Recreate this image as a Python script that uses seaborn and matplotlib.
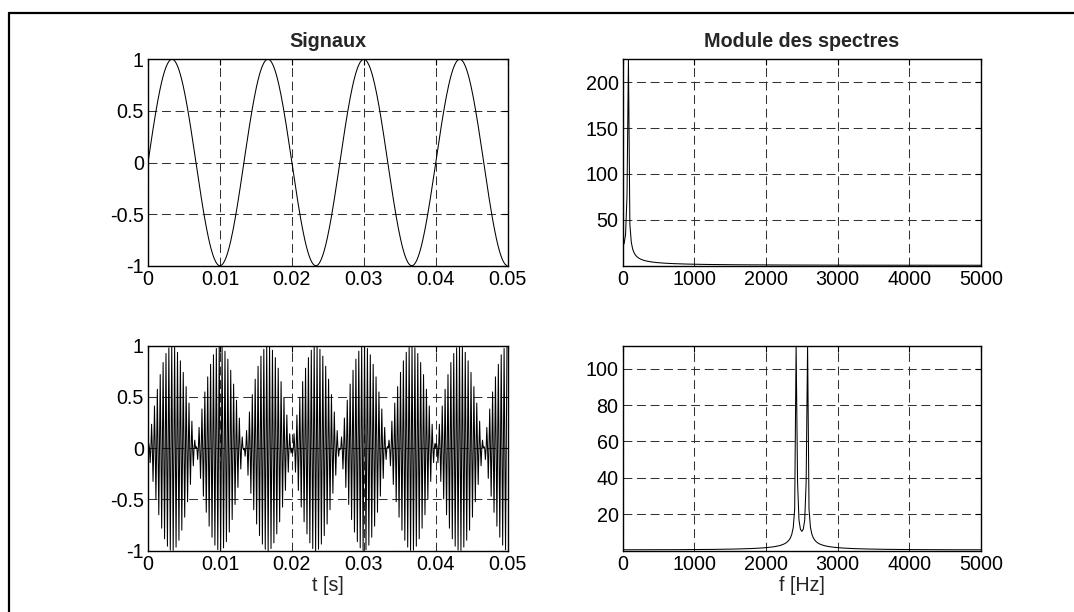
import numpy as np
import pandas as pd
import matplotlib
matplotlib.use("Agg")
import matplotlib.pyplot as plt
import seaborn as sns
from matplotlib.lines import Line2D

# signal parameters
fs = 10000          # sampling rate [Hz] (spectrum axis stops at fs/2)
n_samples = 500     # 0.05 s of signal
f_signal = 75       # Hz, 3.75 periods in 0.05 s
f_carrier = 2500    # Hz, centre of the two spectral lines (2425 / 2575)

t_ticks = [0, 0.01, 0.02, 0.03, 0.04, 0.05]
f_ticks = [0, 1000, 2000, 3000, 4000, 5000]
sig_yticks = [-1, -0.5, 0, 0.5, 1]
spec1_yticks = [50, 100, 150, 200]
spec2_yticks = [20, 40, 60, 80, 100]

titles = ["Signaux", "Module des spectres"]
xlabels = ["t [s]", "f [Hz]"]

t = np.arange(n_samples) / fs
x1 = np.sin(2 * np.pi * f_signal * t)
x2 = x1 * np.sin(2 * np.pi * f_carrier * t)
f = np.arange(n_samples) * fs / n_samples
X1 = np.abs(np.fft.fft(x1))
X2 = np.abs(np.fft.fft(x2))

sig = pd.DataFrame({"t": t, "x1": x1, "x2": x2})
spec = pd.DataFrame({"f": f, "X1": X1, "X2": X2})

sns.set_theme(style="white")
plt.rcParams["font.family"] = ["Liberation Sans", "DejaVu Sans"]
fs_txt = 14.2

fig = plt.figure(figsize=(10.74, 6.12), dpi=100)

W, H = 1074, 612
def box(x0, y0, x1_, y1_):
    return [x0 / W, 1 - y1_ / H, (x1_ - x0) / W, (y1_ - y0) / H]

ax_tl = fig.add_axes(box(148, 59.3, 507.7, 265.7))
ax_tr = fig.add_axes(box(622.7, 59.3, 981, 265.7))
ax_bl = fig.add_axes(box(148, 345.7, 507.7, 550.7))
ax_br = fig.add_axes(box(622.7, 345.7, 981, 550.7))

lw = 0.75
sns.lineplot(data=sig, x="t", y="x1", ax=ax_tl, color="black", linewidth=lw)
sns.lineplot(data=sig, x="t", y="x2", ax=ax_bl, color="black", linewidth=lw)
sns.lineplot(data=spec, x="f", y="X1", ax=ax_tr, color="black", linewidth=lw)
sns.lineplot(data=spec, x="f", y="X2", ax=ax_br, color="black", linewidth=lw)

for ax in (ax_tl, ax_bl):
    ax.set_xlim(0, 0.05)
    ax.set_ylim(-1, 1)
    ax.set_xticks(t_ticks)
    ax.set_xticklabels(["0", "0.01", "0.02", "0.03", "0.04", "0.05"])
    ax.set_yticks(sig_yticks)
    ax.set_yticklabels(["-1", "-0.5", "0", "0.5", "1"])

for ax, Y, yt in ((ax_tr, X1, spec1_yticks), (ax_br, X2, spec2_yticks)):
    ax.set_xlim(0, 5000)
    ax.set_ylim(0, Y.max())
    ax.set_xticks(f_ticks)
    ax.set_yticks(yt)

for ax in (ax_tl, ax_tr, ax_bl, ax_br):
    ax.set_xlabel("")
    ax.set_ylabel("")
    ax.grid(True, color="0.2", linewidth=0.75, dashes=(8.5, 4.5))
    ax.tick_params(direction="in", length=4, width=0.8, top=True, right=True,
                   labelsize=fs_txt, colors="black", pad=3)
    for s in ax.spines.values():
        s.set_color("black")
        s.set_linewidth(1.0)

ax_tl.set_title(titles[0], fontweight="bold", fontsize=fs_txt, pad=9)
ax_tr.set_title(titles[1], fontweight="bold", fontsize=fs_txt, pad=9)
ax_bl.set_xlabel(xlabels[0], fontsize=fs_txt, labelpad=1.5)
ax_br.set_xlabel(xlabels[1], fontsize=fs_txt, labelpad=1.5)

# frame around the figure (top and left edges are visible)
fig.add_artist(Line2D([8.5 / W, 1], [1 - 12.5 / H, 1 - 12.5 / H], color="black", linewidth=1.6))
fig.add_artist(Line2D([8.5 / W, 8.5 / W], [0, 1 - 12.5 / H], color="black", linewidth=1.6))

fig.savefig("out.png", dpi=100, facecolor="white")
